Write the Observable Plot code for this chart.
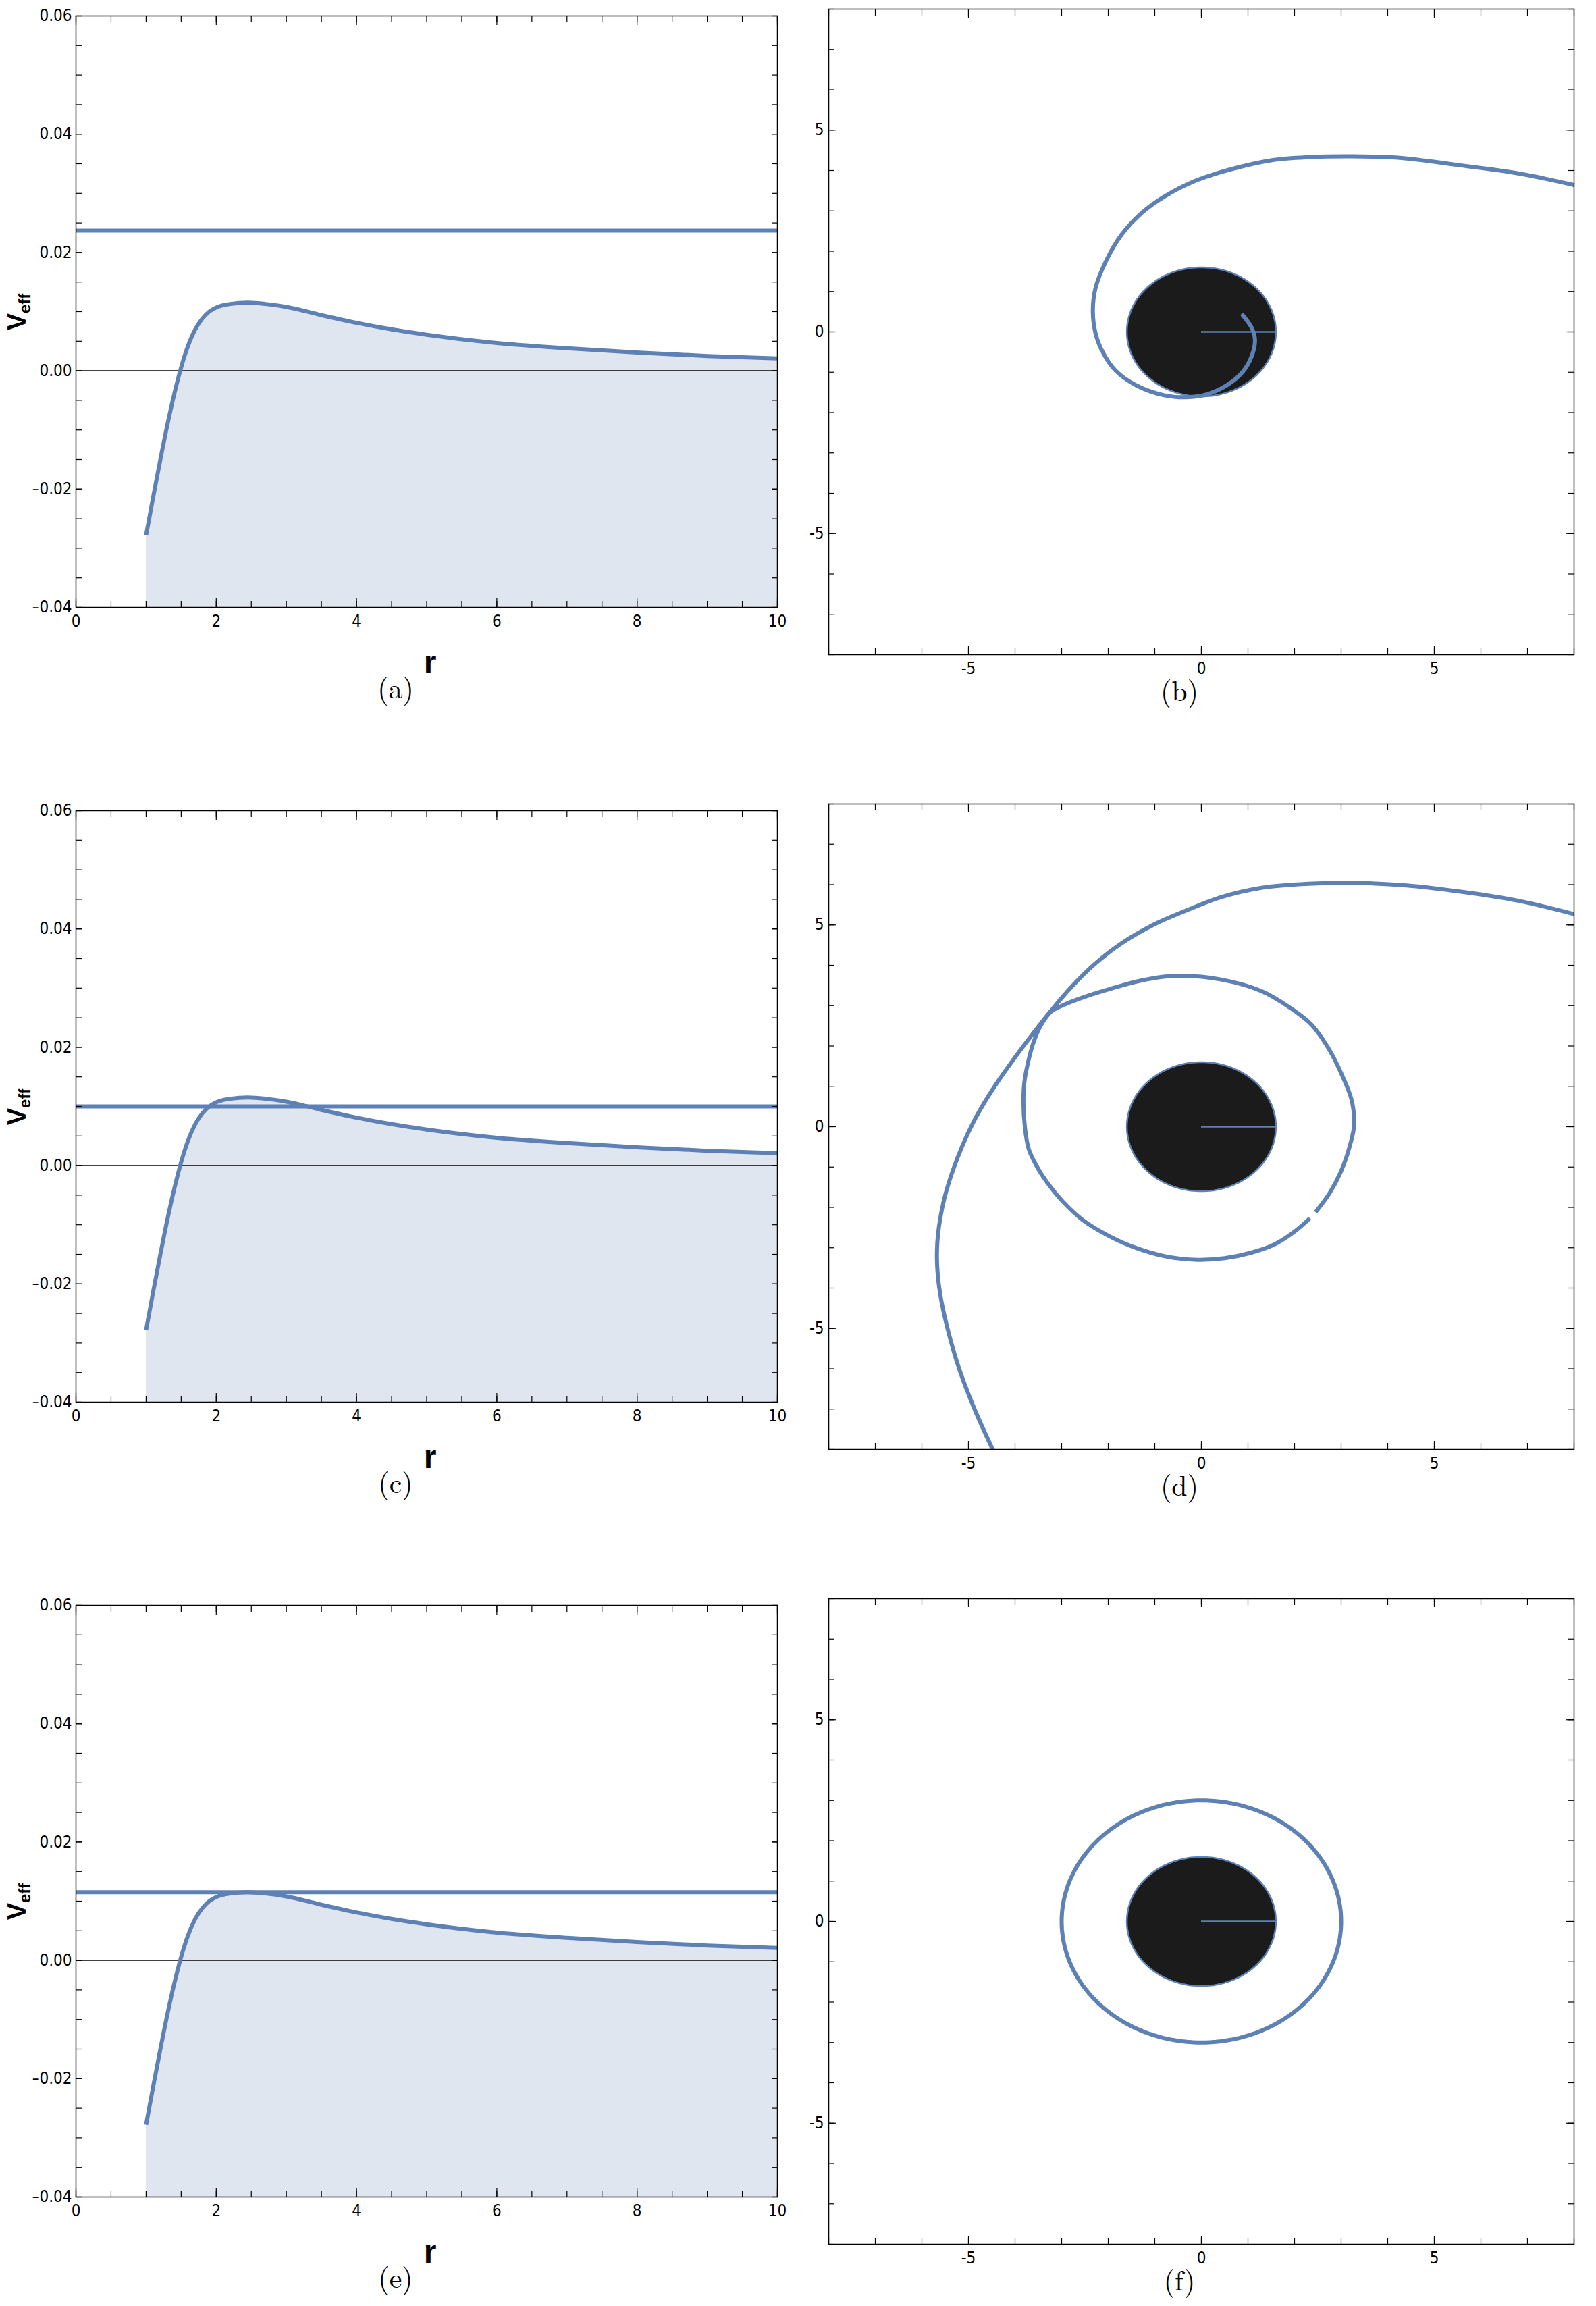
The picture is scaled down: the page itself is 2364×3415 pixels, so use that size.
<!DOCTYPE html>
<html>
<head>
<meta charset="utf-8">
<script src="https://cdn.jsdelivr.net/npm/d3@7"></script>
<script src="https://cdn.jsdelivr.net/npm/@observablehq/plot@0.6"></script>
<style>
  html, body { margin: 0; padding: 0; background: #fff; }
  #page { position: relative; width: 2364px; height: 3415px; background: #fff; overflow: hidden; }
  .panel { position: absolute; }
  #overlay { position: absolute; left: 0; top: 0; pointer-events: none; }
</style>
</head>
<body>
<div id="page"></div>
<script>
// ---------------- data ----------------
const LINE = "#5E81B5";
const FILL = "#DFE6F0";
const DISK = "#1B1B1B";
const TICKFONT = "'Liberation Sans Narrow', 'DejaVu Sans Condensed', 'DejaVu Sans', sans-serif";

// effective potential V_eff(r) (same curve in panels a, c, e)
const potentialR = [1.0, 1.1, 1.2, 1.3, 1.4, 1.5, 1.6, 1.7, 1.8, 1.9, 2.0, 2.2, 2.45, 2.7, 3.0, 3.5, 4.0, 4.5, 5.0, 6.0, 7.0, 8.0, 9.0, 10.0];
const potentialV = [-0.0278, -0.0214, -0.0152, -0.0093, -0.0040, 0.0006, 0.0043, 0.0070, 0.0088, 0.0100, 0.0107, 0.0113, 0.0115, 0.0113, 0.0108, 0.0094, 0.0081, 0.0070, 0.0061, 0.0047, 0.0038, 0.0031, 0.0025, 0.0021];

// energy levels (horizontal lines) in panels a, c, e
const energyLevels = [0.0237, 0.0100, 0.0115];
const leftCaptions = ["(a)", "(c)", "(e)"];
const rightCaptions = ["(b)", "(d)", "(f)"];

// potential panel ticks
const potXMajor = [0, 2, 4, 6, 8, 10];
const potXLabels = ["0", "2", "4", "6", "8", "10"];
const potYMajor = [-0.04, -0.02, 0, 0.02, 0.04, 0.06];
const potYLabels = ["\u20130.04", "\u20130.02", "0.00", "0.02", "0.04", "0.06"];

// orbit panel ticks
const orbMajor = [-5, 0, 5];
const orbLabels = ["-5", "0", "5"];

// black disk (horizon) radius, and circular orbit radius in (f)
const horizonRadius = 1.6;
const circularOrbitRadius = 3.0;

// orbit (b): from the right edge, around the left, into the disk
const orbitBX = [8.0, 6.8, 5.47, 4.3, 3.23, 2.3, 1.54, 0.7, -0.14, -0.8, -1.26, -1.72, -2.05, -2.27, -2.33, -2.28, -2.14, -1.85, -1.39, -0.8, -0.32, 0.11, 0.55, 0.88, 1.08, 1.15, 1.08, 0.89];
const orbitBY = [3.64, 3.93, 4.14, 4.31, 4.35, 4.33, 4.26, 4.05, 3.74, 3.35, 2.97, 2.40, 1.75, 1.10, 0.55, 0.0, -0.45, -0.95, -1.33, -1.57, -1.62, -1.55, -1.32, -1.0, -0.6, -0.2, 0.1, 0.41];

// orbit (d): outer scattering branch
const orbitDOuterX = [8.0, 6.8, 5.6, 4.4, 3.33, 2.3, 1.29, 0.4, -0.32, -1.0, -1.72, -2.3, -2.8, -3.23, -3.62, -3.98, -4.32, -4.63, -4.9, -5.14, -5.34, -5.5, -5.61, -5.67, -5.67, -5.6, -5.45, -5.2, -4.87, -4.48];
const orbitDOuterY = [5.27, 5.6, 5.82, 5.98, 6.04, 6.02, 5.92, 5.68, 5.36, 5.02, 4.54, 4.02, 3.45, 2.87, 2.3, 1.75, 1.2, 0.65, 0.1, -0.5, -1.1, -1.7, -2.3, -2.9, -3.5, -4.2, -5.0, -6.0, -7.0, -8.0];
// orbit (d): inner loop (open, with a small gap at lower right)
const orbitDInnerX = [2.45, 2.75, 3.0, 3.18, 3.28, 3.22, 3.01, 2.75, 2.37, 1.9, 1.29, 0.4, -0.54, -1.3, -1.94, -2.5, -2.95, -3.23, -3.45, -3.6, -3.72, -3.8, -3.82, -3.79, -3.71, -3.55, -3.32, -2.98, -2.54, -2.0, -1.44, -0.75, -0.09, 0.5, 1.05, 1.55, 2.0, 2.33];
const orbitDInnerY = [-2.12, -1.65, -1.1, -0.5, 0.05, 0.68, 1.30, 1.9, 2.52, 2.95, 3.36, 3.65, 3.74, 3.62, 3.42, 3.22, 3.02, 2.85, 2.5, 2.1, 1.6, 1.1, 0.6, 0.0, -0.54, -0.95, -1.37, -1.85, -2.32, -2.7, -2.99, -3.22, -3.30, -3.26, -3.13, -2.93, -2.6, -2.27];

// ---------------- helpers ----------------
const zip = (xs, ys) => xs.map((x, i) => ({x, y: ys[i]}));
const potential = potentialR.map((r, i) => ({r, v: potentialV[i]}));
const potXLabelMap = new Map(potXMajor.map((d, i) => [d, potXLabels[i]]));
const potYLabelMap = new Map(potYMajor.map((d, i) => [d, potYLabels[i]]));
const orbLabelMap = new Map(orbMajor.map((d, i) => [d, orbLabels[i]]));
const potXMinor = d3.range(0, 10.001, 0.5);
const potYMinor = d3.range(-0.04, 0.0601, 0.005);
const orbMinor = d3.range(-8, 8.001, 1);

function circle(R) {
  return d3.range(0, 361, 2).map(a => ({x: R * Math.cos(a * Math.PI / 180), y: R * Math.sin(a * Math.PI / 180)}));
}

const ROW = 1177;
const page = document.getElementById("page");

function place(svg, left, top) {
  const div = document.createElement("div");
  div.className = "panel";
  div.style.left = left + "px";
  div.style.top = top + "px";
  div.appendChild(svg);
  page.appendChild(div);
}

function tickAxes(xMajor, xMinor, yMajor, yMinor, xMajLen, xMinLen, yMajLen, yMinLen) {
  const common = {fill: "none", label: null, stroke: "black", strokeWidth: 1.2};
  return [
    Plot.axisX(xMinor, {...common, anchor: "bottom", tickSize: -xMinLen}),
    Plot.axisX(xMajor, {...common, anchor: "bottom", tickSize: -xMajLen}),
    Plot.axisX(xMinor, {...common, anchor: "top", tickSize: -xMinLen}),
    Plot.axisX(xMajor, {...common, anchor: "top", tickSize: -xMajLen}),
    Plot.axisY(yMinor, {...common, anchor: "left", tickSize: -yMinLen}),
    Plot.axisY(yMajor, {...common, anchor: "left", tickSize: -yMajLen}),
    Plot.axisY(yMinor, {...common, anchor: "right", tickSize: -yMinLen}),
    Plot.axisY(yMajor, {...common, anchor: "right", tickSize: -yMajLen})
  ];
}

function potentialPanel(E) {
  return Plot.plot({
    width: 1180, height: 960,
    marginLeft: 112, marginRight: 29, marginTop: 23, marginBottom: 61,
    x: {domain: [0, 10], label: null},
    y: {domain: [-0.04, 0.06], label: null},
    style: {background: "transparent", fontFamily: TICKFONT, overflow: "visible"},
    marks: [
      Plot.areaY(potential, {x: "r", y1: -0.04, y2: "v", fill: FILL, curve: "monotone-x"}),
      Plot.ruleY([0], {stroke: "black", strokeWidth: 1.5}),
      Plot.ruleY([E], {stroke: LINE, strokeWidth: 6}),
      Plot.line(potential, {x: "r", y: "v", stroke: LINE, strokeWidth: 6, curve: "monotone-x", strokeLinecap: "butt"}),
      Plot.frame({stroke: "black", strokeWidth: 1.5}),
      ...tickAxes(potXMajor, potXMinor, potYMajor, potYMinor, 13, 9, 9, 9),
      Plot.axisX(potXMajor, {anchor: "bottom", tickSize: 0, tickPadding: 11, fontSize: 24, label: null, tickFormat: d => potXLabelMap.get(d)}),
      Plot.axisY(potYMajor, {anchor: "left", tickSize: 0, tickPadding: 6, fontSize: 24, label: null, tickFormat: d => potYLabelMap.get(d)})
    ]
  });
}

function orbitPanel(extraMarks) {
  return Plot.plot({
    width: 1204, height: 1010,
    marginLeft: 67, marginRight: 33, marginTop: 13, marginBottom: 41,
    x: {domain: [-8, 8], label: null},
    y: {domain: [-8, 8], label: null},
    style: {background: "transparent", fontFamily: TICKFONT, overflow: "visible"},
    marks: [
      Plot.line(circle(horizonRadius), {x: "x", y: "y", fill: DISK, stroke: LINE, strokeWidth: 2.5}),
      Plot.ruleY([0], {x1: 0, x2: horizonRadius, stroke: LINE, strokeWidth: 2.5}),
      ...extraMarks,
      Plot.frame({stroke: "black", strokeWidth: 1.5}),
      ...tickAxes(orbMajor, orbMinor, orbMajor, orbMinor, 12, 9, 12, 9),
      Plot.axisX(orbMajor, {anchor: "bottom", tickSize: 0, tickPadding: 11, fontSize: 24, label: null, tickFormat: d => orbLabelMap.get(d)}),
      Plot.axisY(orbMajor, {anchor: "left", tickSize: 0, tickPadding: 7, fontSize: 24, label: null, tickFormat: d => orbLabelMap.get(d)})
    ]
  });
}

// left column: potentials
energyLevels.forEach((E, i) => place(potentialPanel(E), 0, i * ROW));

// right column: orbits
const orbitStyle = {x: "x", y: "y", stroke: LINE, strokeWidth: 6, curve: "catmull-rom", clip: true};
place(orbitPanel([Plot.line(zip(orbitBX, orbitBY), orbitStyle)]), 1160, 0);
place(orbitPanel([
  Plot.line(zip(orbitDOuterX, orbitDOuterY), orbitStyle),
  Plot.line(zip(orbitDInnerX, orbitDInnerY), {...orbitStyle, strokeLinecap: "butt"})
]), 1160, ROW);
place(orbitPanel([Plot.line(circle(circularOrbitRadius), {...orbitStyle, curve: "linear"})]), 1160, 2 * ROW);

// ---------------- overlay texts (captions, axis labels) ----------------
const ns = "http://www.w3.org/2000/svg";
const ov = document.createElementNS(ns, "svg");
ov.setAttribute("id", "overlay");
ov.setAttribute("width", 2364);
ov.setAttribute("height", 3415);
page.appendChild(ov);

function txt(x, y, str, attrs) {
  const t = document.createElementNS(ns, "text");
  t.setAttribute("x", x); t.setAttribute("y", y);
  for (const k in attrs) t.setAttribute(k, attrs[k]);
  t.textContent = str;
  ov.appendChild(t);
  return t;
}

for (let i = 0; i < 3; i++) {
  const off = i * ROW;
  const capAttrs = {"text-anchor": "middle", "font-family": "'Latin Modern Roman', 'Liberation Serif', 'DejaVu Serif', serif", "font-size": 42, fill: "black"};
  txt(586, 1034 + off, leftCaptions[i], capAttrs);
  txt(1747, 1038 + off, rightCaptions[i], capAttrs);
  // r label
  txt(637, 997 + off, "r", {"text-anchor": "middle", "font-family": "'Liberation Sans Narrow', 'Liberation Sans', sans-serif", "font-weight": "bold", "font-size": 48, fill: "black"});
  // V_eff label (rotated)
  const g = document.createElementNS(ns, "text");
  g.setAttribute("transform", `translate(38, ${462 + off}) rotate(-90)`);
  g.setAttribute("text-anchor", "middle");
  g.setAttribute("font-family", "'Liberation Sans', Arial, sans-serif");
  g.setAttribute("font-weight", "bold");
  g.setAttribute("fill", "black");
  const t1 = document.createElementNS(ns, "tspan");
  t1.setAttribute("font-size", 38);
  t1.textContent = "V";
  const t2 = document.createElementNS(ns, "tspan");
  t2.setAttribute("font-size", 24);
  t2.setAttribute("dy", 7);
  t2.textContent = "eff";
  g.appendChild(t1); g.appendChild(t2);
  ov.appendChild(g);
}
</script>
</body>
</html>
